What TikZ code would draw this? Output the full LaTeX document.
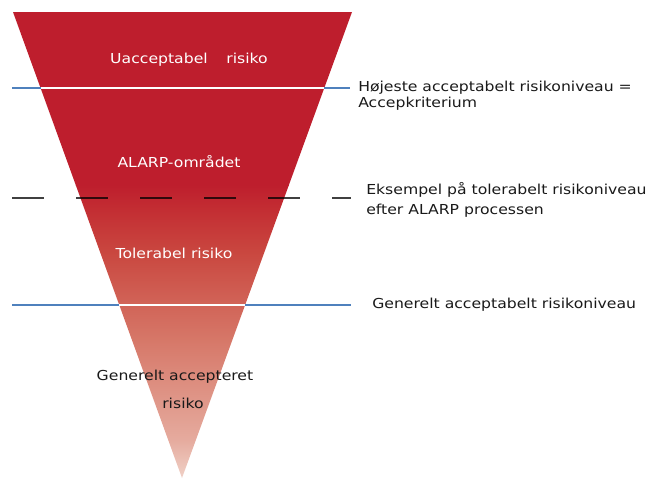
\documentclass[tikz,border=0pt]{standalone}
\usepackage{fontspec}
\setmainfont{DejaVu Sans}[FakeStretch=1.14]
\definecolor{riskred}{RGB}{190, 30, 45}
\definecolor{levelblue}{RGB}{79, 129, 189}
\usetikzlibrary{calc}
\pgfdeclareverticalshading{riskfade}{100bp}{
  rgb(0bp)=(0.94,0.82,0.78); rgb(25bp)=(0.94,0.82,0.78);
  rgb(31.5bp)=(0.90,0.67,0.62); rgb(48.5bp)=(0.84,0.47,0.41);
  rgb(63.4bp)=(0.79,0.28,0.25); rgb(70.7bp)=(0.765,0.18,0.20);
  rgb(75bp)=(0.745,0.118,0.176); rgb(100bp)=(0.745,0.118,0.176)}

\begin{document}
\begin{tikzpicture}[x=0.75pt, y=-0.75pt,
  zone/.style={font=\fontsize{10.3}{12}\selectfont, text=white, inner sep=0pt},
  zonedark/.style={zone, text=black!90},
  note/.style={font=\fontsize{10.3}{12}\selectfont, text=black!90, anchor=west, align=left, inner sep=0pt},
  level/.style={levelblue, line width=2.2pt},
  cut/.style={white, line width=1.6pt}]
  \useasboundingbox (0,0) rectangle (655,480);

  % Funnel
  \coordinate (tl) at (13,12);
  \coordinate (tr) at (352,12);
  \coordinate (apex) at (182,478);
  \begin{scope}
    \clip (tl) -- (tr) -- (apex) -- cycle;
    \fill[riskred] (0,0) rectangle (360,186);
    \shade[shading=riskfade] (0,185) rectangle (360,478);
  \end{scope}

  % Upper level (acceptance criterion)
  \coordinate (a1) at ($(tl)!0.1631!(apex)$);
  \coordinate (a2) at ($(tr)!0.1631!(apex)$);
  \draw[level] (12,88) -- (350,88);
  \draw[cut] (a1) -- (a2);

  % Example level after ALARP
  \draw[black, opacity=0.75, line width=1.5pt, dash pattern=on 24pt off 24pt] (12,198) -- (351,198);

  % Lower level (generally acceptable)
  \coordinate (b1) at ($(tl)!0.6288!(apex)$);
  \coordinate (b2) at ($(tr)!0.6288!(apex)$);
  \draw[level] (12,305) -- (351,305);
  \draw[cut] (b1) -- (b2);

  % Zones
  \node[zone] (unacc) at (189,60) {Uacceptabel\hspace{14pt}risiko};
  \node[zone] (alarp) at (179,162) {ALARP-området};
  \node[zone] (toler) at (174,253) {Tolerabel risiko};
  \node[zonedark] (gen1) at (175,377) {Generelt accepteret};
  \node[zonedark] (gen2) at (183,403) {risiko};

  % Notes
  \node[note] (crit) at (358,96) {Højeste acceptabelt risikoniveau =\\Accepkriterium};
  \node[note] (example) at (366,200) {Eksempel på tolerabelt risikoniveau\\[3pt]efter ALARP processen};
  \node[note] (general) at (372,305) {Generelt acceptabelt risikoniveau};
\end{tikzpicture}
\end{document}
